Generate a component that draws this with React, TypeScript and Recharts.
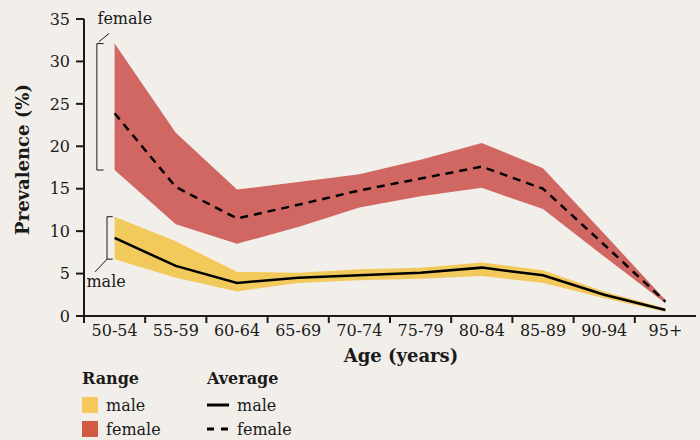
import { ComposedChart, Area, Line, XAxis, YAxis, ReferenceLine, ReferenceDot } from "recharts";

const ages = ["50-54", "55-59", "60-64", "65-69", "70-74", "75-79", "80-84", "85-89", "90-94", "95+"];
const femaleLow = [17.2, 10.8, 8.5, 10.5, 12.8, 14.1, 15.1, 12.6, 7.0, 1.5];
const femaleHigh = [32.1, 21.6, 14.9, 15.8, 16.7, 18.4, 20.4, 17.4, 9.7, 1.9];
const femaleAvg = [23.9, 15.2, 11.5, 13.1, 14.8, 16.2, 17.6, 15.0, 8.4, 1.7];
const maleLow = [6.7, 4.5, 2.9, 3.9, 4.2, 4.4, 4.7, 3.9, 2.1, 0.5];
const maleHigh = [11.7, 8.8, 5.2, 5.1, 5.5, 5.7, 6.3, 5.4, 2.9, 0.9];
const maleAvg = [9.2, 5.9, 3.9, 4.5, 4.8, 5.1, 5.7, 4.8, 2.5, 0.7];
const yTicks = [0, 5, 10, 15, 20, 25, 30, 35];
const legendRange = ["male", "female"];
const legendAvg = ["male", "female"];

const data = ages.map((age, i) => ({
  age,
  x: i + 0.5,
  fRange: [femaleLow[i], femaleHigh[i]],
  mRange: [maleLow[i], maleHigh[i]],
  fAvg: femaleAvg[i],
  mAvg: maleAvg[i],
}));

const BG = "#f2efea";
const RED = "#d06763";
const YELLOW = "#f2ca5c";
const FONT = "'DejaVu Serif', serif";
const INK = "#1a1a1a";
const BAND = 61.2;

function XTick(props: any) {
  const { x, y, payload } = props;
  return (
    <text x={x + BAND / 2} y={y} dy="0.7em" textAnchor="middle" fontSize={16} fontFamily={FONT} fill={INK}>
      {ages[payload.value]}
    </text>
  );
}

function YTitle(props: any) {
  const { viewBox } = props;
  const cx = viewBox.x + 22;
  const cy = viewBox.y + viewBox.height / 2 - 8;
  return (
    <text x={cx} y={cy} transform={`rotate(-90 ${cx} ${cy})`} textAnchor="middle" dominantBaseline="central" fontSize={18} fontWeight="bold" fontFamily={FONT} fill={INK}>
      Prevalence (%)
    </text>
  );
}

function XTitle(props: any) {
  const { viewBox } = props;
  return (
    <text x={viewBox.x + viewBox.width / 2 + 11} y={viewBox.y + 46} textAnchor="middle" fontSize={18} fontWeight="bold" fontFamily={FONT} fill={INK}>
      Age (years)
    </text>
  );
}

const note = (txt: string) => (props: any) => (
  <text x={props.cx} y={props.cy} dominantBaseline="central" fontSize={16} fontFamily={FONT} fill={INK}>
    {txt}
  </text>
);

const seg = { stroke: INK, strokeWidth: 1, ifOverflow: "visible" as const };

export default function App() {
  return (
    <div style={{ position: "absolute", left: 0, top: 0, width: 700, height: 440, background: BG, fontFamily: FONT, color: INK }}>
      <ComposedChart width={700} height={440} data={data} margin={{ top: 19, right: 4, bottom: 64, left: 0 }}>
        <XAxis
          dataKey="x"
          type="number"
          domain={[0, 10]}
          ticks={[0, 1, 2, 3, 4, 5, 6, 7, 8, 9]}
          tick={<XTick />}
          tickSize={7}
          tickMargin={2}
          height={60}
          axisLine={{ stroke: INK, strokeWidth: 2 }}
          tickLine={{ stroke: INK, strokeWidth: 2 }}
          label={{ content: <XTitle /> }}
        />
        <YAxis
          domain={[0, 35]}
          ticks={yTicks}
          width={84}
          tickSize={8}
          tickMargin={6}
          tick={{ fontSize: 16, fontFamily: FONT, fill: INK }}
          axisLine={{ stroke: INK, strokeWidth: 2 }}
          tickLine={{ stroke: INK, strokeWidth: 2 }}
          label={{ content: <YTitle /> }}
        />
        <Area type="linear" dataKey="fRange" fill={RED} fillOpacity={1} stroke="none" isAnimationActive={false} />
        <Area type="linear" dataKey="mRange" fill={YELLOW} fillOpacity={1} stroke="none" isAnimationActive={false} />
        <Line type="linear" dataKey="fAvg" stroke="#000" strokeWidth={2.5} strokeDasharray="8 6" dot={false} isAnimationActive={false} />
        <Line type="linear" dataKey="mAvg" stroke="#000" strokeWidth={2.5} dot={false} isAnimationActive={false} />

        {/* female bracket */}
        <ReferenceLine segment={[{ x: 0.21, y: femaleHigh[0] }, { x: 0.21, y: femaleLow[0] }]} {...seg} />
        <ReferenceLine segment={[{ x: 0.21, y: femaleHigh[0] }, { x: 0.32, y: femaleHigh[0] }]} {...seg} />
        <ReferenceLine segment={[{ x: 0.21, y: femaleLow[0] }, { x: 0.32, y: femaleLow[0] }]} {...seg} />
        <ReferenceLine segment={[{ x: 0.24, y: femaleHigh[0] + 0.2 }, { x: 0.41, y: 33.3 }]} {...seg} />
        <ReferenceDot x={0.22} y={35.1} r={1} shape={note("female")} ifOverflow="visible" />

        {/* male bracket */}
        <ReferenceLine segment={[{ x: 0.376, y: maleHigh[0] }, { x: 0.376, y: maleLow[0] }]} {...seg} />
        <ReferenceLine segment={[{ x: 0.376, y: maleHigh[0] }, { x: 0.47, y: maleHigh[0] }]} {...seg} />
        <ReferenceLine segment={[{ x: 0.376, y: maleLow[0] }, { x: 0.47, y: maleLow[0] }]} {...seg} />
        <ReferenceLine segment={[{ x: 0.376, y: maleLow[0] }, { x: 0.18, y: 5.2 }]} {...seg} />
        <ReferenceDot x={0.04} y={4.1} r={1} shape={note("male")} ifOverflow="visible" />
      </ComposedChart>

      <div style={{ position: "absolute", left: 82, top: 369, fontSize: 16 }}>
        <div style={{ fontWeight: "bold", height: 24 }}>Range</div>
        {legendRange.map((name, i) => (
          <div key={name} style={{ display: "flex", alignItems: "center", height: 24 }}>
            <span style={{ width: 16, height: 16, background: i === 0 ? "#f7c85e" : "#d05a44", marginRight: 8 }} />
            {name}
          </div>
        ))}
      </div>
      <div style={{ position: "absolute", left: 207, top: 369, fontSize: 16 }}>
        <div style={{ fontWeight: "bold", height: 24 }}>Average</div>
        {legendAvg.map((name, i) => (
          <div key={name} style={{ display: "flex", alignItems: "center", height: 24 }}>
            <svg width={22} height={10} style={{ marginRight: 8 }}>
              <line x1={0} y1={5} x2={22} y2={5} stroke="#000" strokeWidth={3} strokeDasharray={i === 0 ? undefined : "7 7"} />
            </svg>
            {name}
          </div>
        ))}
      </div>
    </div>
  );
}
